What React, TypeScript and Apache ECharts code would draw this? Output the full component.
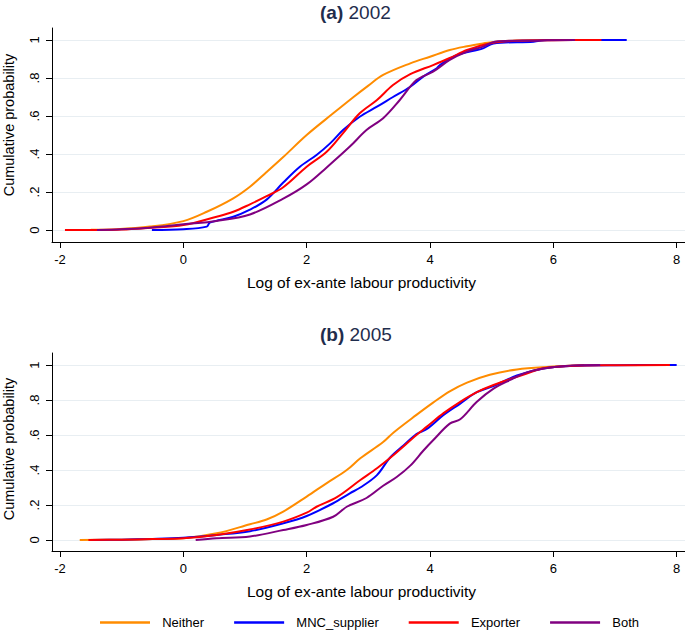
import React, { useEffect, useRef } from "react";
import * as echarts from "echarts";

const SERIES_NAMES = ["Neither", "MNC_supplier", "Exporter", "Both"];
const COLORS = ["#FF8C00", "#0000FF", "#FF0000", "#800080"];
const X_TICKS = [-2, 0, 2, 4, 6, 8];
const Y_TICKS = [0, 0.2, 0.4, 0.6, 0.8, 1];
const PANEL_TITLES = [["(a)", "2002"], ["(b)", "2005"]];
const X_NAME = "Log of ex-ante labour productivity";
const Y_NAME = "Cumulative probability";

// Panel (a) 2002
const neither02 = [[-1.9, 0], [-1.5, 0.001], [-1.08, 0.004], [-0.54, 0.018], [0, 0.047], [0.38, 0.096], [0.81, 0.167], [1.08, 0.228], [1.35, 0.305], [1.62, 0.384], [2.0, 0.5], [2.43, 0.614], [2.76, 0.7], [3.0, 0.76], [3.24, 0.816], [3.68, 0.877], [4.0, 0.912], [4.32, 0.947], [4.6, 0.967], [4.86, 0.982], [5.03, 0.99], [5.4, 0.997], [6.0, 1.0]];
const mnc02 = [[-0.51, 0], [0, 0.004], [0.38, 0.018], [0.43, 0.039], [0.81, 0.07], [1.08, 0.107], [1.35, 0.16], [1.62, 0.25], [1.89, 0.333], [2.16, 0.395], [2.38, 0.456], [2.59, 0.526], [2.86, 0.596], [3.14, 0.649], [3.4, 0.7], [3.68, 0.754], [3.89, 0.807], [4.11, 0.851], [4.16, 0.868], [4.43, 0.92], [4.86, 0.956], [5.03, 0.982], [5.68, 0.991], [5.9, 1.0], [7.19, 1.0]];
const exporter02 = [[-1.92, 0], [-1.0, 0.003], [-0.54, 0.012], [0, 0.026], [0.54, 0.07], [0.81, 0.096], [1.08, 0.135], [1.35, 0.178], [1.62, 0.225], [2.0, 0.333], [2.32, 0.41], [2.59, 0.51], [2.86, 0.614], [3.14, 0.684], [3.4, 0.763], [3.68, 0.82], [4.05, 0.868], [4.32, 0.905], [4.6, 0.947], [4.97, 0.982], [5.4, 0.996], [6.0, 0.999], [6.78, 1.0]];
const both02 = [[-1.4, 0], [-1.0, 0.004], [-0.54, 0.012], [0, 0.03], [0.54, 0.048], [1.08, 0.082], [1.62, 0.165], [2.0, 0.24], [2.32, 0.328], [2.7, 0.439], [2.97, 0.526], [3.24, 0.588], [3.51, 0.684], [3.78, 0.789], [4.05, 0.833], [4.32, 0.895], [4.6, 0.939], [4.86, 0.965], [5.05, 0.991], [5.5, 0.997], [6.35, 1.0]];

// Panel (b) 2005
const neither05 = [[-1.68, 0], [-1.0, 0.002], [-0.5, 0.005], [0, 0.01], [0.54, 0.038], [1.08, 0.09], [1.35, 0.117], [1.62, 0.162], [2.0, 0.248], [2.32, 0.324], [2.65, 0.4], [2.87, 0.467], [3.24, 0.56], [3.41, 0.615], [3.78, 0.715], [4.05, 0.785], [4.32, 0.85], [4.6, 0.9], [4.97, 0.945], [5.41, 0.975], [5.95, 0.99], [6.5, 1.0]];
const mnc05 = [[-1.5, 0], [-1.0, 0.002], [-0.5, 0.006], [0, 0.013], [0.54, 0.029], [1.08, 0.05], [1.62, 0.095], [2.0, 0.137], [2.43, 0.21], [2.7, 0.267], [2.87, 0.3], [3.14, 0.371], [3.35, 0.47], [3.57, 0.54], [3.78, 0.605], [3.95, 0.635], [4.22, 0.715], [4.49, 0.78], [4.76, 0.845], [5.03, 0.88], [5.41, 0.94], [5.84, 0.98], [6.27, 0.994], [7.0, 0.999], [8.0, 1.0]];
const exporter05 = [[-1.54, 0], [-1.0, 0.002], [-0.5, 0.005], [0, 0.01], [0.54, 0.029], [1.08, 0.06], [1.62, 0.105], [2.0, 0.156], [2.16, 0.19], [2.49, 0.245], [2.87, 0.343], [3.14, 0.41], [3.41, 0.486], [3.78, 0.6], [3.95, 0.648], [4.22, 0.725], [4.49, 0.79], [4.76, 0.845], [5.03, 0.886], [5.57, 0.952], [5.84, 0.982], [6.27, 0.995], [7.0, 0.999], [7.89, 1.0]];
const both05 = [[0.2, 0], [0.54, 0.01], [1.08, 0.02], [1.62, 0.057], [2.0, 0.086], [2.43, 0.133], [2.65, 0.19], [2.97, 0.24], [3.24, 0.31], [3.46, 0.36], [3.68, 0.425], [3.89, 0.51], [4.05, 0.57], [4.32, 0.665], [4.49, 0.69], [4.76, 0.79], [5.03, 0.865], [5.3, 0.915], [5.57, 0.958], [5.84, 0.981], [6.2, 0.995], [6.76, 1.0]];

const PANEL_DATA = [
  [neither02, mnc02, exporter02, both02],
  [neither05, mnc05, exporter05, both05],
];

const FONT = "'Liberation Sans', Arial, sans-serif";
const TITLE_COLOR = "#1f2d4d";

export default function App() {
  const ref = useRef<HTMLDivElement>(null);
  useEffect(() => {
    if (!ref.current) return;
    const chart = echarts.init(ref.current, null, { renderer: "svg" });

    const grids = [
      { left: 52, right: 0, top: 28, height: 214 },
      { left: 52, right: 0, top: 353, height: 198 },
    ];
    const yRanges = [
      [-0.063, 1.063],
      [-0.063, 1.069],
    ];

    const xAxes = grids.map((_, i) => ({
      type: "value",
      gridIndex: i,
      min: -2.13,
      max: 8.135,
      name: X_NAME,
      nameLocation: "middle",
      nameGap: 32,
      nameTextStyle: { fontSize: 15.5, color: "#000", fontFamily: FONT, padding: [0, 14, 0, 0] },
      axisLine: { show: true, onZero: false, lineStyle: { color: "#000", width: 1 } },
      axisTick: { show: true, length: 6, customValues: X_TICKS, lineStyle: { color: "#000" } },
      axisLabel: { customValues: X_TICKS, fontSize: 13, color: "#000", fontFamily: FONT, margin: 11 },
      splitLine: { show: false },
    }));

    const yAxes = grids.map((_, i) => ({
      type: "value",
      gridIndex: i,
      min: yRanges[i][0],
      max: yRanges[i][1],
      axisLine: { show: true, onZero: false, lineStyle: { color: "#000", width: 1 } },
      axisTick: { show: true, length: 6, customValues: Y_TICKS, lineStyle: { color: "#000" } },
      axisLabel: {
        customValues: Y_TICKS,
        rotate: 90,
        fontSize: 13,
        color: "#000",
        fontFamily: FONT,
        margin: 11,
        formatter: (v: number) => {
          const r = Math.round(v * 10) / 10;
          if (r === 0) return "0";
          if (r === 1) return "1";
          return String(r).replace(/^0/, "");
        },
      },
      splitLine: { show: true, lineStyle: { color: "#e8eef2", width: 1 } },
    }));

    const series: any[] = [];
    PANEL_DATA.forEach((panel, p) => {
      panel.forEach((data, s) => {
        series.push({
          type: "line",
          name: SERIES_NAMES[s],
          xAxisIndex: p,
          yAxisIndex: p,
          data,
          symbol: "none",
          showSymbol: false,
          smooth: 0.35,
          lineStyle: { color: COLORS[s], width: 2 },
          itemStyle: { color: COLORS[s] },
          z: 2 + s,
        });
      });
    });

    const titles = PANEL_TITLES.map((t, i) => ({
      text: `{b|${t[0]}} ${t[1]}`,
      left: 320,
      top: i === 0 ? 3 : 325,
      padding: 0,
      textStyle: {
        fontSize: 19,
        fontWeight: "normal",
        color: TITLE_COLOR,
        fontFamily: FONT,
        rich: { b: { fontSize: 19, fontWeight: "bold", color: TITLE_COLOR, fontFamily: FONT } },
      },
    }));

    chart.setOption({
      animation: false,
      backgroundColor: "#fff",
      title: titles,
      grid: grids,
      xAxis: xAxes,
      yAxis: yAxes,
      legend: {
        data: SERIES_NAMES.map((n) => ({ name: n, icon: "rect" })),
        left: 100,
        top: 616,
        padding: 0,
        itemWidth: 50,
        itemHeight: 2.5,
        itemGap: 30,
        formatter: (n: string) => "  " + n,
        textStyle: { fontSize: 13, color: "#000", fontFamily: FONT },
      },
      graphic: [
        {
          type: "text",
          x: 9,
          y: 125,
          rotation: Math.PI / 2,
          style: { text: Y_NAME, fontSize: 14.5, fill: "#000", fontFamily: FONT, align: "center", verticalAlign: "middle" },
        },
        {
          type: "text",
          x: 9,
          y: 449,
          rotation: Math.PI / 2,
          style: { text: Y_NAME, fontSize: 14.5, fill: "#000", fontFamily: FONT, align: "center", verticalAlign: "middle" },
        },
      ],
      series,
    });
    return () => chart.dispose();
  }, []);
  return (
    <div
      ref={ref}
      style={{ position: "absolute", left: 0, top: 0, width: 685, height: 633 }}
    />
  );
}
